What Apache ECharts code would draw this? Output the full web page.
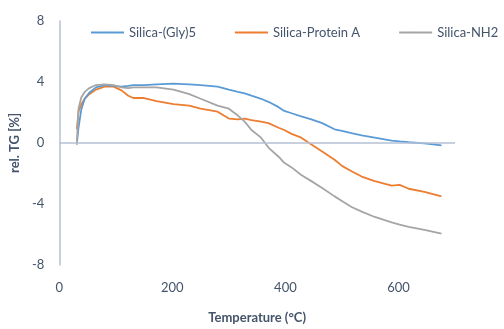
<!DOCTYPE html>
<html>
<head>
<meta charset="utf-8">
<script src="https://cdn.jsdelivr.net/npm/echarts@6/dist/echarts.min.js"></script>
<style>
  html, body { margin: 0; padding: 0; background: #fff; }
  #chart { width: 504px; height: 329px; }
</style>
</head>
<body>
<div id="chart"></div>
<script>
var temps = [31, 34, 39, 45, 53, 65, 80, 96, 110, 122, 131, 150, 172, 202, 230, 250, 280, 300, 316, 328, 340, 357, 370, 388, 398, 411, 428, 446, 465, 487, 500, 517, 535, 558, 588, 602, 618, 646, 676];
var gly5 = [-0.1, 1.0, 2.2, 2.9, 3.3, 3.65, 3.8, 3.75, 3.7, 3.75, 3.8, 3.8, 3.85, 3.9, 3.85, 3.8, 3.7, 3.5, 3.35, 3.25, 3.1, 2.9, 2.7, 2.35, 2.1, 1.95, 1.75, 1.55, 1.3, 0.9, 0.8, 0.65, 0.5, 0.35, 0.15, 0.1, 0.05, -0.03, -0.15];
var proteinA = [0.9, 2.05, 2.55, 2.9, 3.2, 3.5, 3.7, 3.7, 3.45, 3.1, 2.95, 2.95, 2.75, 2.55, 2.45, 2.25, 2.05, 1.6, 1.55, 1.6, 1.5, 1.4, 1.3, 1.0, 0.85, 0.6, 0.35, -0.1, -0.55, -1.1, -1.5, -1.85, -2.2, -2.5, -2.8, -2.75, -3.0, -3.2, -3.5];
var nh2 = [-0.1, 2.25, 3.0, 3.35, 3.6, 3.8, 3.85, 3.8, 3.65, 3.6, 3.65, 3.65, 3.65, 3.5, 3.2, 2.9, 2.45, 2.25, 1.8, 1.4, 0.85, 0.35, -0.3, -0.9, -1.3, -1.6, -2.1, -2.5, -2.95, -3.5, -3.8, -4.2, -4.5, -4.85, -5.2, -5.35, -5.5, -5.7, -5.95];
var names = ['Silica-(Gly)5', 'Silica-Protein A', 'Silica-NH2'];
var colors = ['#5b9bd5', '#ed7d31', '#a5a5a5'];

function pairs(ys) {
  return temps.map(function (t, i) { return [t, ys[i]]; });
}

var textColor = '#44546a';
var axisColor = '#b4c1d4';
var font = 'Lato, "Open Sans", sans-serif';

var chart = echarts.init(document.getElementById('chart'));
chart.setOption({
  animation: false,
  textStyle: { fontFamily: font },
  color: colors,
  grid: { left: 58, right: 49, top: 21, bottom: 55 },
  legend: {
    top: 26,
    left: 90,
    width: 414,
    padding: 0,
    itemWidth: 33,
    itemHeight: 2,
    itemGap: 38,
    textStyle: { color: textColor, fontSize: 13, fontFamily: font },
    data: names
  },
  xAxis: {
    type: 'value',
    min: 0,
    max: 700,
    interval: 200,
    axisLine: { show: false },
    axisTick: { show: false },
    splitLine: { show: false },
    axisLabel: {
      color: textColor, fontSize: 13, margin: 16,
      showMaxLabel: false
    },
    name: 'Temperature (°C)',
    nameLocation: 'middle',
    nameGap: 46,
    nameTextStyle: { color: textColor, fontSize: 13, fontWeight: 'bold' }
  },
  yAxis: {
    type: 'value',
    min: -8,
    max: 8,
    interval: 4,
    axisLine: { show: true, lineStyle: { color: axisColor, width: 1.5 } },
    axisTick: { show: false },
    splitLine: { show: false },
    axisLabel: { color: textColor, fontSize: 13, margin: 15 },
    name: 'rel. TG [%]',
    nameLocation: 'middle',
    nameGap: 32,
    nameTextStyle: { color: textColor, fontSize: 13, fontWeight: 'bold' }
  },
  series: [
    {
      name: names[0], type: 'line', symbol: 'none', z: 3,
      lineStyle: { width: 1.8 }, data: pairs(gly5),
      markLine: {
        silent: true, symbol: 'none', label: { show: false },
        lineStyle: { color: axisColor, width: 1.5, type: 'solid' },
        data: [{ yAxis: 0 }]
      }
    },
    { name: names[1], type: 'line', symbol: 'none', z: 2, lineStyle: { width: 1.8 }, data: pairs(proteinA) },
    { name: names[2], type: 'line', symbol: 'none', z: 4, lineStyle: { width: 1.8 }, data: pairs(nh2) }
  ]
});
</script>
</body>
</html>
